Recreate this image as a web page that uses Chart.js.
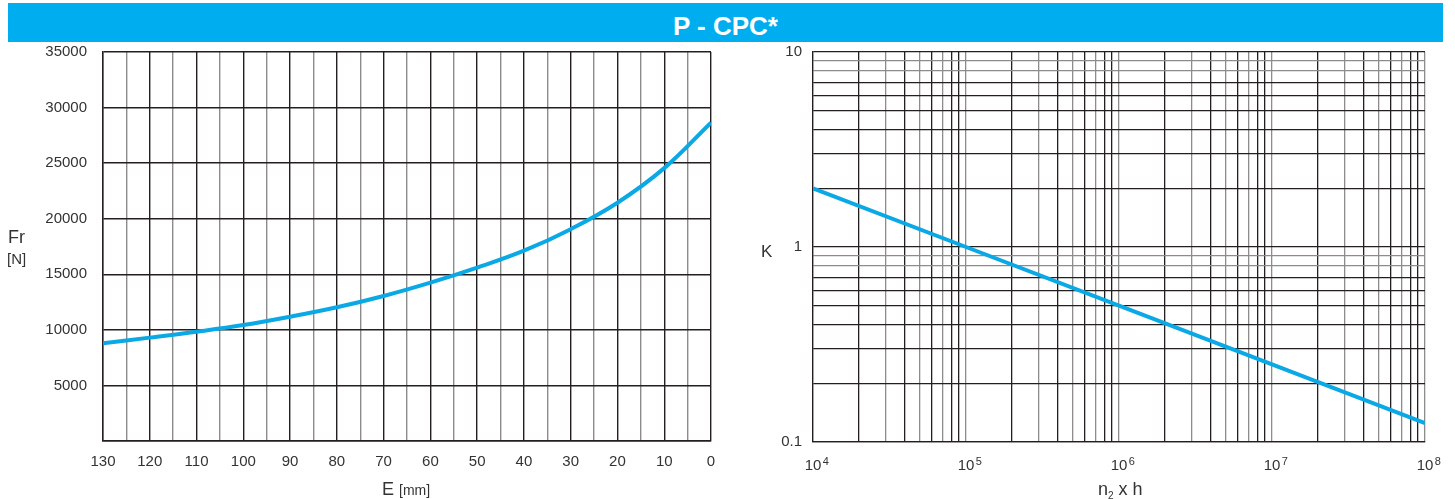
<!DOCTYPE html>
<html>
<head>
<meta charset="utf-8">
<script src="https://cdn.jsdelivr.net/npm/chart.js@4.4.1/dist/chart.umd.min.js"></script>
<style>
body { margin: 0; width: 1455px; height: 499px; background: #fff; position: relative; overflow: hidden;
       font-family: "Liberation Sans", Arial, sans-serif; color: #333; }
.hdr { position: absolute; left: 8px; top: 3px; width: 1435px; height: 39px; background: #00aeef; color: #fff;
       font-weight: bold; font-size: 26px; line-height: 46px; text-align: center; }
.lbl { position: absolute; white-space: nowrap; font-size: 18px; line-height: 18px; color: #333; }
canvas { position: absolute; top: 42px; }
</style>
</head>
<body>
<div class="hdr">P - CPC*</div>
<canvas id="forceChart" width="730" height="457" style="left:0"></canvas>
<canvas id="factorChart" width="725" height="457" style="left:730px"></canvas>
<div class="lbl" style="left:8px;top:228px">Fr</div>
<div class="lbl" style="left:7px;top:251px;font-size:15px;line-height:15px">[N]</div>
<div class="lbl" style="left:382px;top:480px">E <span style="font-size:14px">[mm]</span></div>
<div class="lbl" style="left:761px;top:243px;font-size:17px">K</div>
<div class="lbl" style="left:1098px;top:480px">n<span style="font-size:10px;vertical-align:-4px">2</span> x h</div>

<script>
// left chart: Fr over stroke E
const eValues = [130, 120, 110, 100, 90, 80, 70, 60, 50, 40, 30, 20, 10, 0];
const frValues = [8800, 9300, 9830, 10430, 11180, 12030, 13050, 14250, 15600, 17120, 19060, 21440, 24550, 28640];
const eTickLabels = ['130', '120', '110', '100', '90', '80', '70', '60', '50', '40', '30', '20', '10', '0'];
const frTickLabels = ['5000', '10000', '15000', '20000', '25000', '30000', '35000'];

// right chart: K over n2 x h (log-log)
const cycleValues = [1e4, 1e5, 1e6, 1e7, 1e8];
const kValues = [2, 1, 0.5, 0.25, 0.125];
const cyclePowers = [4, 5, 6, 7, 8];
const kTickLabels = ['0.1', '1', '10'];

const DARK = '#231f20';
const GRAY = '#8c8c8c';
const BLUE = '#0aa9e6';

Chart.defaults.font.family = '"Liberation Sans", Arial, sans-serif';
Chart.defaults.font.size = 15;
Chart.defaults.color = '#333';

// grid values of a log axis: 1..9 per decade
function logGrid(fromExp, toExp) {
    const out = [];
    for (let p = fromExp; p < toExp; p++) {
        for (let m = 1; m <= 9; m++) out.push(Number((m * Math.pow(10, p)).toPrecision(6)));
    }
    out.push(Math.pow(10, toExp));
    return out;
}

// fixed axis size, no extra padding for the end labels
function fixWidth(w) {
    return (s) => { s.width = w; s.paddingTop = 0; s.paddingBottom = 0; };
}
function fixHeight(h) {
    return (s) => { s.height = h; s.paddingLeft = 0; s.paddingRight = 0; };
}

new Chart(document.getElementById('forceChart'), {
    type: 'line',
    data: {
        datasets: [{
            data: eValues.map((e, i) => ({ x: e, y: frValues[i] })),
            borderColor: BLUE,
            borderWidth: 4,
            pointRadius: 0,
            tension: 0.4
        }]
    },
    options: {
        responsive: false,
        animation: false,
        layout: { padding: { left: 0, top: 10, right: 19, bottom: 0 } },
        plugins: { legend: { display: false }, tooltip: { enabled: false } },
        scales: {
            x: {
                type: 'linear', min: 0, max: 130, reverse: true,
                afterFit: fixHeight(58),
                border: { color: DARK, width: 1.4 },
                grid: { drawTicks: false, lineWidth: 1.4,
                        color: (c) => (c.tick && c.tick.value % 10 === 0 ? DARK : GRAY) },
                ticks: { stepSize: 5, maxTicksLimit: 100, autoSkip: false, maxRotation: 0, padding: 12,
                         callback: (v) => (eTickLabels.includes(String(v)) ? String(v) : '') }
            },
            y: {
                min: 0, max: 35000,
                afterFit: fixWidth(103),
                border: { color: DARK, width: 1.4 },
                grid: { drawTicks: false, lineWidth: 1.4, color: DARK },
                ticks: { stepSize: 5000, padding: 16,
                         callback: (v) => (frTickLabels.includes(String(v)) ? String(v) : '') }
            }
        }
    }
});

// superscript exponents next to the "10" tick labels
const powerLabels = {
    id: 'powerLabels',
    afterDraw(chart) {
        const sc = chart.scales.x;
        const ctx = chart.ctx;
        ctx.save();
        ctx.fillStyle = '#333';
        ctx.textBaseline = 'alphabetic';
        ctx.textAlign = 'left';
        cyclePowers.forEach(p => {
            const x = sc.getPixelForValue(Math.pow(10, p));
            ctx.font = '15px "Liberation Sans", Arial, sans-serif';
            const w = ctx.measureText('10').width;
            ctx.font = '11px "Liberation Sans", Arial, sans-serif';
            ctx.fillText(String(p), x + w / 2 + 1.5, 423);
        });
        ctx.restore();
    }
};

const cycleGrid = logGrid(4, 8);
const kGrid = logGrid(-1, 1);

new Chart(document.getElementById('factorChart'), {
    type: 'line',
    data: {
        datasets: [{
            data: cycleValues.map((n, i) => ({ x: n, y: kValues[i] })),
            borderColor: BLUE,
            borderWidth: 4,
            pointRadius: 0,
            tension: 0
        }]
    },
    options: {
        responsive: false,
        animation: false,
        layout: { padding: { left: 0, top: 10, right: 30, bottom: 0 } },
        plugins: { legend: { display: false }, tooltip: { enabled: false } },
        scales: {
            x: {
                type: 'logarithmic', min: 1e4, max: 1e8,
                afterBuildTicks: (s) => { s.ticks = cycleGrid.map(v => ({ value: v })); },
                afterFit: fixHeight(57),
                border: { color: DARK, width: 1.3 },
                grid: { drawTicks: false, lineWidth: 1.3,
                        color: (c) => {
                            if (!c.tick) return GRAY;
                            const m = Math.round(c.tick.value / Math.pow(10, Math.floor(Math.log10(c.tick.value) + 1e-9)));
                            return m % 2 === 0 || m === 9 ? DARK : GRAY;
                        } },
                ticks: { autoSkip: false, maxRotation: 0, padding: 15,
                         callback: (v) => (cyclePowers.includes(Math.round(Math.log10(v))) &&
                                          Math.abs(Math.log10(v) - Math.round(Math.log10(v))) < 1e-9 ? '10' : '') }
            },
            y: {
                type: 'logarithmic', min: 0.1, max: 10,
                afterBuildTicks: (s) => { s.ticks = kGrid.map(v => ({ value: v })); },
                afterFit: fixWidth(83),
                border: { color: DARK, width: 1.3 },
                grid: { drawTicks: false, lineWidth: 1.3,
                        color: (c) => {
                            if (!c.tick) return DARK;
                            const m = Math.round(c.tick.value / Math.pow(10, Math.floor(Math.log10(c.tick.value) + 1e-9)));
                            return m === 9 || m === 8 ? GRAY : DARK;
                        } },
                ticks: { autoSkip: false, padding: 11,
                         callback: (v) => (kTickLabels.includes(String(v)) ? String(v) : '') }
            }
        }
    },
    plugins: [powerLabels]
});
</script>
</body>
</html>
